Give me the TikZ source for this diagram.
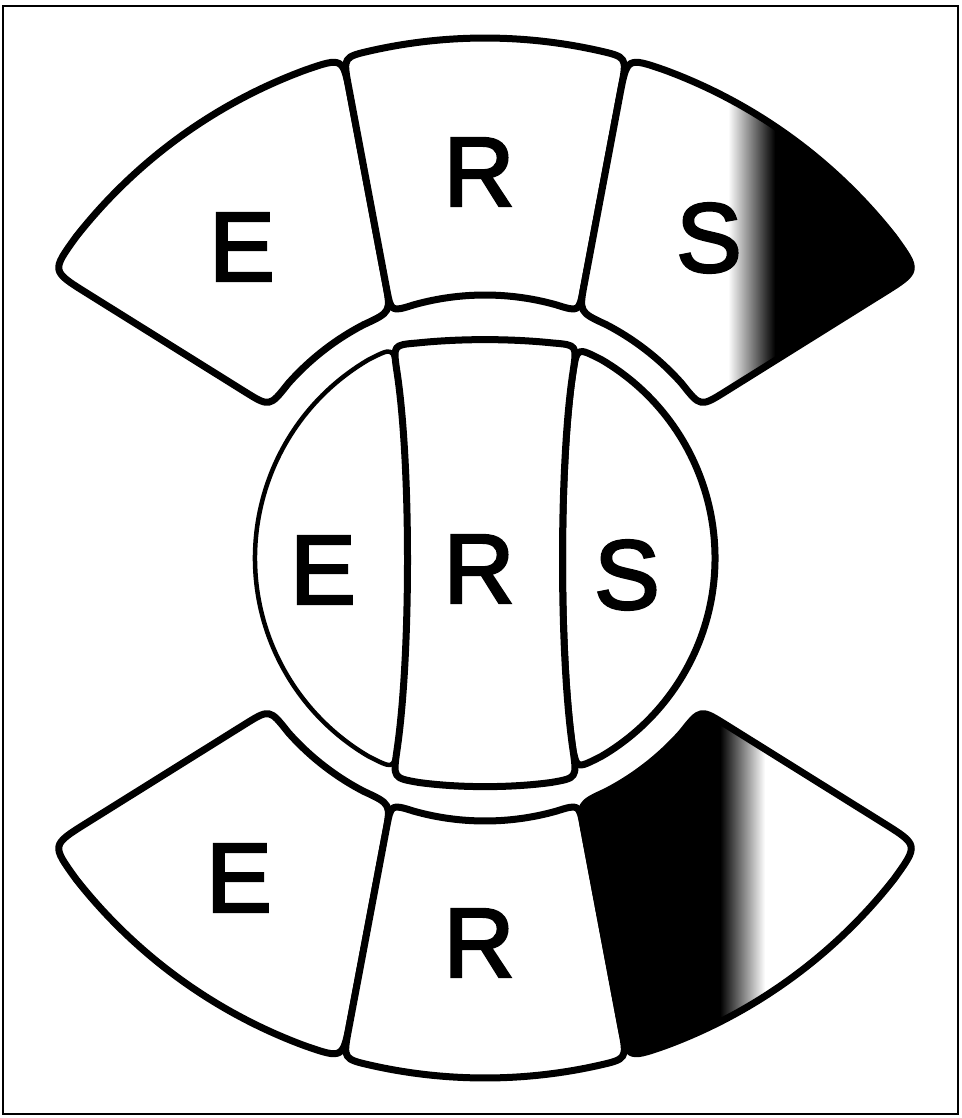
\documentclass[tikz,border=0pt]{standalone}
\usepackage{fontspec}
\setmainfont{Liberation Sans}
\newfontfamily\lblfont{Liberation Sans}[FakeBold=2.8]
\begin{document}
\begin{tikzpicture}[x=1pt,y=1pt,
  seg/.style={draw=black, line width=7pt, line join=round},
  thinseg/.style={draw=black, line width=4.5pt, line join=round},
  lbl/.style={font=\lblfont\fontsize{98}{100}\selectfont, inner sep=0pt, anchor=center}]
\useasboundingbox (0,0) rectangle (961,-1118);
\fill[white] (0,0) rectangle (961,-1118);
\draw[line width=2pt] (3,-6) rectangle (958,-1114);

% ring-segment outlines (origin at the common centre, y up)
\def\pathE{(110.24:520) arc[start angle=110.24, end angle=141.87, radius=520]
  .. controls (146.5:520) .. (-398.0,264.79) -- (-240.89,166.74)
  .. controls (145:263) .. (138.46:263)
  arc[start angle=138.46, end angle=117.45, radius=263]
  .. controls (-94,246) .. (-99.55,275.48) -- (-134.6,461.69)
  .. controls (-142,501) .. (110.24:520) -- cycle}
\def\pathR{(77.48:520) arc[start angle=77.48, end angle=102.52, radius=520]
  .. controls (-142,501) .. (-136.45,471.52) -- (-98.44,269.59)
  .. controls (-94,246) .. (105.68:263)
  arc[start angle=105.68, end angle=74.32, radius=263]
  .. controls (94,246) .. (98.44,269.59) -- (136.45,471.52)
  .. controls (142,501) .. (77.48:520) -- cycle}
\def\pathS{(69.76:520) arc[start angle=69.76, end angle=38.13, radius=520]
  .. controls (33.5:520) .. (398.0,264.79) -- (240.89,166.74)
  .. controls (35:263) .. (41.54:263)
  arc[start angle=41.54, end angle=62.55, radius=263]
  .. controls (94,246) .. (99.55,275.48) -- (134.6,461.69)
  .. controls (142,501) .. (69.76:520) -- cycle}

% ---------- top group ----------
\begin{scope}[shift={(485,-558)}]
  \draw[seg, fill=white] \pathE;
  \draw[seg, fill=white] \pathR;
  \fill[white] \pathS;
  \begin{scope}
    \clip \pathS;
    \fill[black] (289,100) rectangle (450,530);
    \shade[left color=white, right color=black] (243,100) rectangle (290,530);
  \end{scope}
  \draw[seg] \pathS;
\end{scope}

% ---------- bottom group (mirror image) ----------
\begin{scope}[shift={(485,-558)}, yscale=-1]
  \draw[seg, fill=white] \pathE;
  \draw[seg, fill=white] \pathR;
  \fill[white] \pathS;
  \begin{scope}
    \clip \pathS;
    \fill[black] (80,100) rectangle (236,530);
    \shade[left color=black, right color=white] (235,100) rectangle (280,530);
  \end{scope}
  \draw[seg] \pathS;
\end{scope}

% ---------- middle group ----------
\begin{scope}[shift={(485,-558)}]
  \draw[thinseg, fill=white] (120.5:230) arc[start angle=120.5, end angle=239.5, radius=230]
    .. controls (-92,-210.8) .. (-88,-192)
    .. controls (-74,-97) and (-74,94) .. (-88,186)
    .. controls (-92,210.8) .. (120.5:230) -- cycle;
  \draw[seg, fill=white] (59.5:230) arc[start angle=59.5, end angle=-59.5, radius=230]
    .. controls (92,-210.8) .. (88,-192)
    .. controls (74,-97) and (74,94) .. (88,186)
    .. controls (92,210.8) .. (59.5:230) -- cycle;
  \draw[seg, fill=white] (-68,215) .. controls (-25,219.5) and (25,219.5) .. (68,215)
    .. controls (92,213) .. (88,186)
    .. controls (74,94) and (74,-97) .. (88,-192)
    .. controls (92,-220) .. (66,-224.5)
    .. controls (25,-230) and (-25,-230) .. (-66,-224.5)
    .. controls (-92,-220) .. (-88,-192)
    .. controls (-74,-97) and (-74,94) .. (-88,186)
    .. controls (-92,213) .. (-68,215) -- cycle;
\end{scope}

% ---------- labels ----------
\node[lbl] (tE) at (242,-247) {E};
\node[lbl] (tR) at (479,-172) {R};
\node[lbl] (tS) at (709,-238) {S};
\node[lbl] (mE) at (323,-570) {E};
\node[lbl] (mR) at (479,-569) {R};
\node[lbl] (mS) at (627,-575) {S};
\node[lbl] (bE) at (239,-878) {E};
\node[lbl] (bR) at (479,-943) {R};
\end{tikzpicture}
\end{document}
